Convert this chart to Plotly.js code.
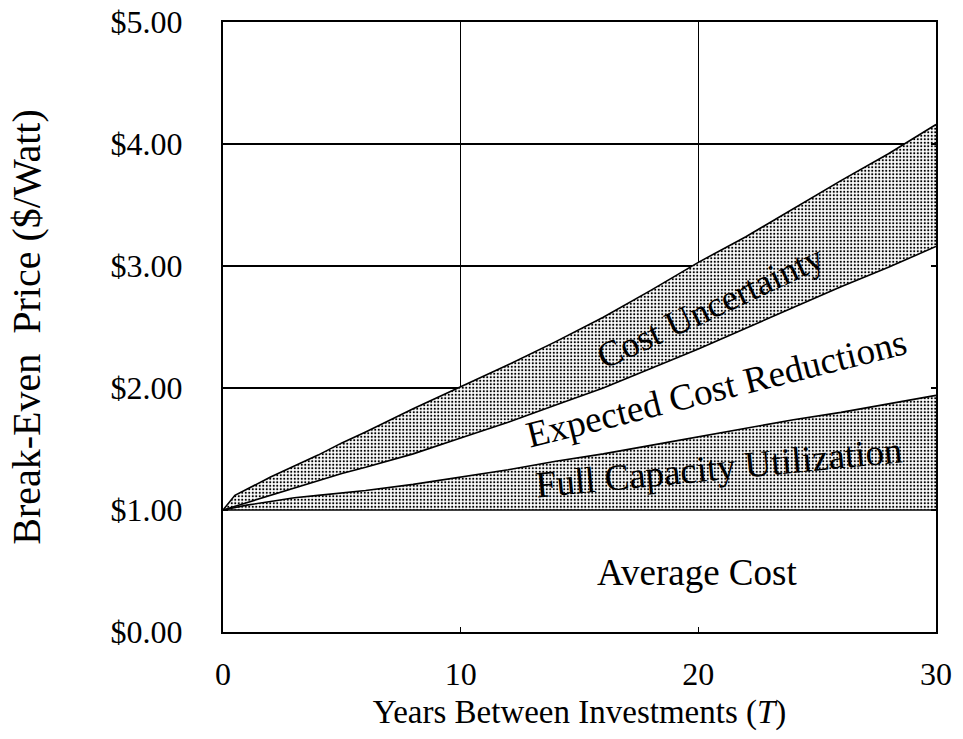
<!DOCTYPE html>
<html>
<head>
<meta charset="utf-8">
<script src="https://cdn.plot.ly/plotly-3.0.1.min.js"></script>
<style>html,body{margin:0;padding:0;background:#fff;}#chart{width:963px;height:739px;}</style>
</head>
<body>
<div id="chart"></div>
<script>
// Years between investments (T)
var years = [0, 0.5, 1, 2, 3, 4, 5, 6, 8, 10, 12, 14, 16, 18, 20, 22, 24, 26, 28, 30];
// Top of "Cost Uncertainty" band
var costUncertainty = [1.00, 1.12, 1.17, 1.27, 1.36, 1.45, 1.55, 1.64, 1.83, 2.01, 2.19, 2.38, 2.58, 2.80, 3.03, 3.24, 3.47, 3.70, 3.92, 4.16];
// Top of "Expected Cost Reductions" band
var expectedReductions = [1.00, 1.03, 1.06, 1.12, 1.18, 1.24, 1.30, 1.35, 1.46, 1.59, 1.72, 1.86, 2.00, 2.16, 2.32, 2.49, 2.66, 2.83, 2.99, 3.16];
// Top of "Full Capacity Utilization" band
var fullCapacity = [1.00, 1.02, 1.04, 1.07, 1.10, 1.12, 1.14, 1.16, 1.21, 1.27, 1.33, 1.40, 1.46, 1.53, 1.60, 1.67, 1.74, 1.80, 1.87, 1.94];
// Average cost level
var avgX = [0, 30];
var avgCost = [1.00, 1.00];

var xTicks = [0, 10, 20, 30];
var yTicks = [0, 1, 2, 3, 4, 5];
var yTickText = ['$0.00', '$1.00', '$2.00', '$3.00', '$4.00', '$5.00'];

var serif = 'Liberation Serif, Times New Roman, serif';
var pat = {shape: '.', size: 3.5, solidity: 0.3, fgcolor: '#000', bgcolor: '#fff'};
var ln = {color: '#000', width: 1.6};

var traces = [
  {x: years, y: costUncertainty, mode: 'lines', line: ln, fill: 'tozeroy', fillcolor: '#fff', hoverinfo: 'skip'},
  {x: years, y: expectedReductions, mode: 'lines', line: ln, fill: 'tonexty', fillpattern: pat, fillcolor: '#fff', hoverinfo: 'skip'},
  {x: avgX, y: avgCost, mode: 'lines', line: ln, hoverinfo: 'skip'},
  {x: years, y: fullCapacity, mode: 'lines', line: ln, fill: 'tonexty', fillpattern: pat, fillcolor: '#fff', hoverinfo: 'skip'}
];

var layout = {
  width: 963, height: 739,
  margin: {l: 223, r: 27, t: 22, b: 107},
  paper_bgcolor: '#fff', plot_bgcolor: '#fff',
  showlegend: false,
  font: {family: serif, color: '#000', size: 32},
  xaxis: {
    range: [0, 30], tickvals: xTicks, ticktext: xTicks.map(String),
    showgrid: true, gridcolor: '#000', gridwidth: 1.5,
    showline: true, linecolor: '#000', linewidth: 2, mirror: 'ticks',
    ticks: 'inside', ticklen: 5, tickwidth: 1.5, tickcolor: '#000',
    zeroline: false, ticklabelstandoff: 13,
    tickfont: {family: serif, size: 32, color: '#000'},
    title: {text: 'Years Between Investments (<i>T</i>)', font: {family: serif, size: 33, color: '#000'}, standoff: 8}
  },
  yaxis: {
    range: [0, 5], tickvals: yTicks, ticktext: yTickText,
    showgrid: true, gridcolor: '#000', gridwidth: 1.5,
    showline: true, linecolor: '#000', linewidth: 2, mirror: 'ticks',
    ticks: 'inside', ticklen: 5, tickwidth: 1.5, tickcolor: '#000',
    zeroline: false, ticklabelstandoff: 32,
    tickfont: {family: serif, size: 32, color: '#000'},
    title: {text: 'Break-Even&nbsp;&nbsp;Price ($/Watt)', font: {family: serif, size: 40, color: '#000'}, standoff: 58}
  },
  annotations: [
    {x: 20.5, y: 2.66, xref: 'x', yref: 'y', text: 'Cost Uncertainty', showarrow: false, textangle: -25, font: {family: serif, size: 36, color: '#000'}},
    {x: 20.75, y: 2.0, xref: 'x', yref: 'y', text: 'Expected Cost Reductions', showarrow: false, textangle: -14, font: {family: serif, size: 37, color: '#000'}},
    {x: 20.85, y: 1.35, xref: 'x', yref: 'y', text: 'Full Capacity Utilization', showarrow: false, textangle: -5.5, font: {family: serif, size: 37, color: '#000'}},
    {x: 19.94, y: 0.49, xref: 'x', yref: 'y', text: 'Average Cost', showarrow: false, font: {family: serif, size: 37, color: '#000'}}
  ]
};

Plotly.newPlot('chart', traces, layout, {staticPlot: true, displayModeBar: false});
</script>
</body>
</html>
